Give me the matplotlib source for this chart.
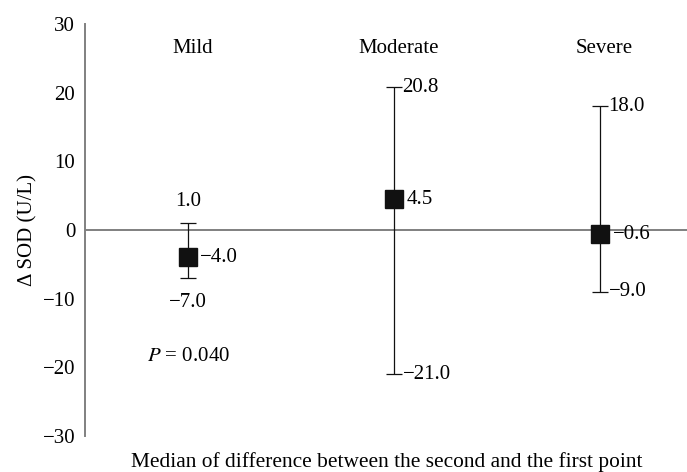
"""Median change in SOD by severity group, with range error bars."""

import matplotlib.pyplot as plt

plt.rcParams["font.family"] = ["Liberation Serif", "DejaVu Serif"]

groups = ["Mild", "Moderate", "Severe"]
medians = [-4.0, 4.5, -0.6]
upper = [1.0, 20.8, 18.0]
lower = [-7.0, -21.0, -9.0]
y_ticks = [-30, -20, -10, 0, 10, 20, 30]
p_text = "= 0.040"

GRAY = "#808080"
INK = "#111111"
FS = 15


def fmt(v, digits=1):
    s = f"{abs(v):.{digits}f}"
    return s if v >= 0 else "\u2212" + s


fig = plt.figure(figsize=(6.87, 4.72), dpi=100)
ax = fig.add_axes([0.1237, 0.0763, 0.8763, 0.8729])

x = [i + 0.5 for i in range(len(groups))]
yerr = [[m - lo for m, lo in zip(medians, lower)], [hi - m for m, hi in zip(medians, upper)]]
ax.errorbar(x, medians, yerr=yerr, fmt="none", ecolor=INK, elinewidth=0.9, capsize=6, capthick=0.9, zorder=2)
ax.axhline(0, color=GRAY, linewidth=1.4, zorder=1)
ax.plot(x, medians, linestyle="none", marker="s", markersize=13, color=INK, zorder=3)

# category names along the top
for xi, name in zip(x, groups):
    ax.text(xi + 0.02, 26.4, name, ha="center", va="center", fontsize=FS)

# mild: range labels above and below, median to the right
ax.text(x[0], upper[0] + 3.2, fmt(upper[0]), ha="center", va="center", fontsize=FS)
ax.text(x[0], lower[0] - 3.6, fmt(lower[0]), ha="center", va="center", fontsize=FS)
ax.text(x[0] + 0.06, medians[0], fmt(medians[0]), ha="left", va="center", fontsize=FS)
ax.text(x[0], -18.4, "$P$ " + p_text, ha="center", va="center", fontsize=FS,
        math_fontfamily="stix")

# moderate and severe: labels to the right
for i in (1, 2):
    for val, off in ((upper[i], 0.04), (lower[i], 0.04), (medians[i], 0.06)):
        ax.text(x[i] + off, val, fmt(val), ha="left", va="center", fontsize=FS)

ax.set_xlim(0, 2.92)
ax.set_ylim(-30, 30)
ax.set_yticks(y_ticks, [fmt(t, 0) for t in y_ticks])
ax.set_xticks([])
ax.tick_params(axis="y", length=0, pad=7, labelsize=FS)
for side in ("top", "right", "bottom"):
    ax.spines[side].set_visible(False)
ax.spines["left"].set_color(GRAY)
ax.spines["left"].set_linewidth(1.4)
ax.set_ylabel("\u0394 SOD (U/L)", fontsize=FS, labelpad=4)

fig.text(0.563, 0.021, "Median of difference between the second and the first point",
         ha="center", va="center", fontsize=15.4)

fig.savefig("out.png", dpi=100)
